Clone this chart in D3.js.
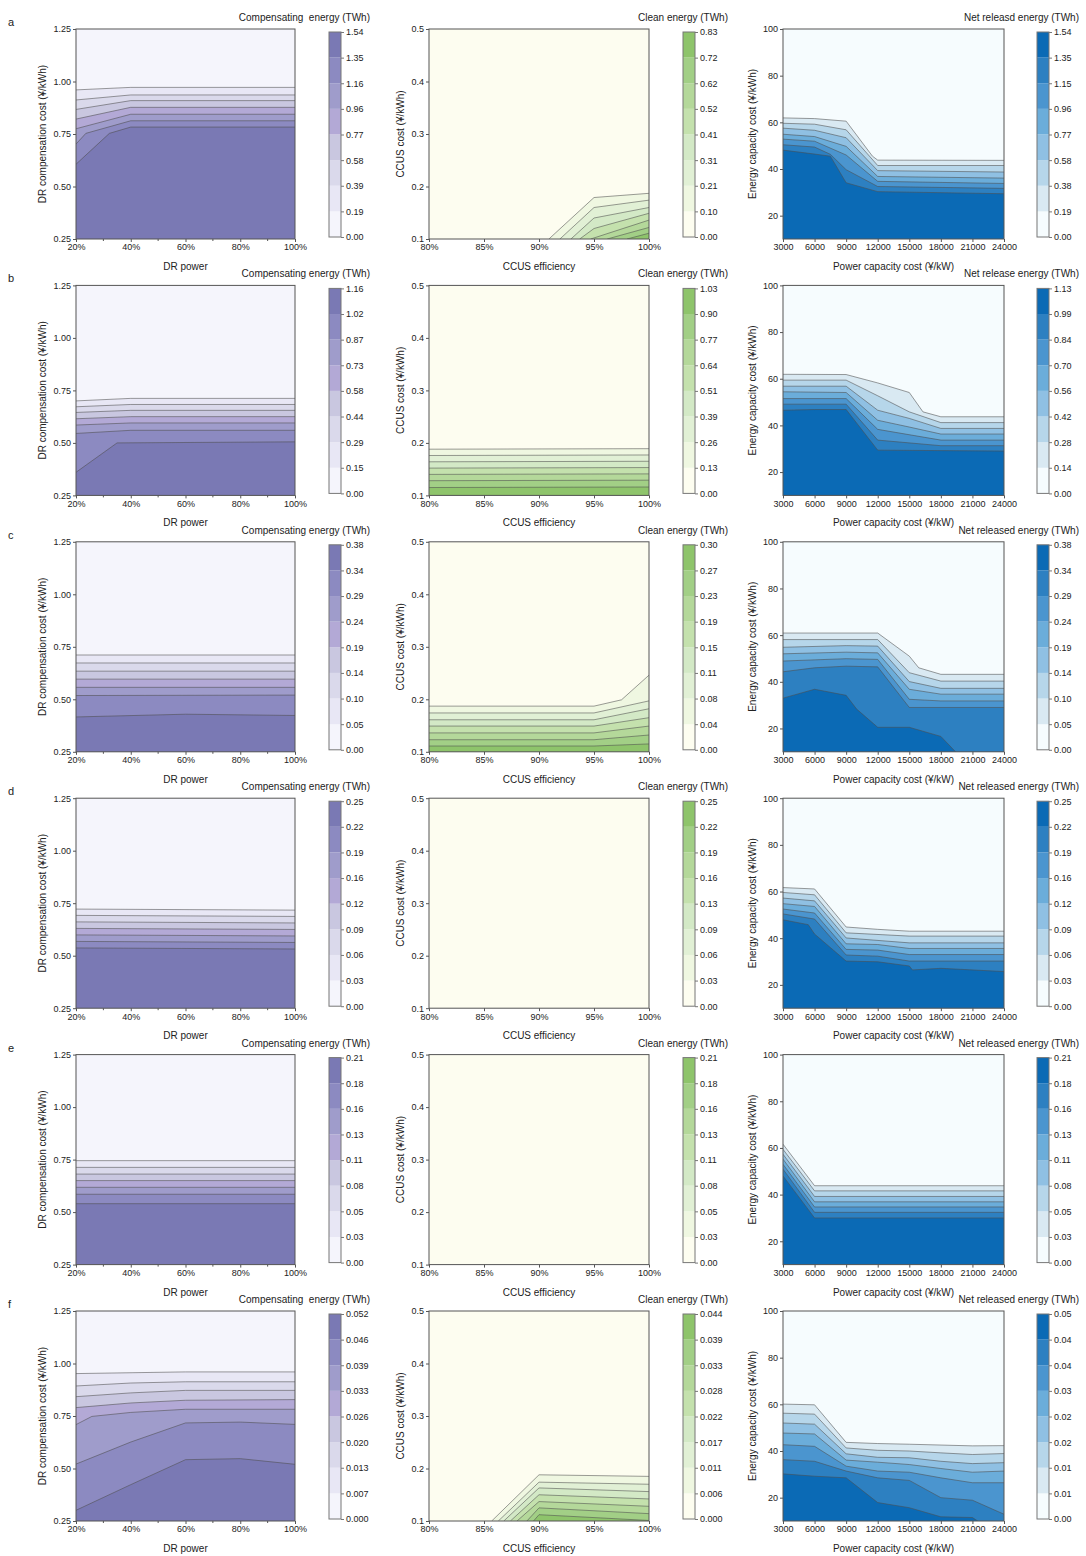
<!DOCTYPE html>
<meta charset="utf-8">
<style>
body { margin: 0; background: #fff; }
text { font-family: "Liberation Sans", Arial, sans-serif; fill: #222; }
.tick text { font-size: 9px; }
.axisTitle { font-size: 10px; }
.barTitle { font-size: 10px; }
.panelLetter { font-size: 11px; }
</style>
<svg width="1086" height="1556"></svg>
<script src="https://cdn.jsdelivr.net/npm/d3@7"></script>
<script>

const rows = ["a", "b", "c", "d", "e", "f"];

// axis ticks
const drPowerTicks = [20, 40, 60, 80, 100];
const drCostTicks = [0.25, 0.5, 0.75, 1.0, 1.25];
const ccusEffTicks = [80, 85, 90, 95, 100];
const ccusCostTicks = [0.1, 0.2, 0.3, 0.4, 0.5];
const powerCostTicks = [3000, 6000, 9000, 12000, 15000, 18000, 21000, 24000];
const energyCostTicks = [20, 40, 60, 80, 100];

// colorbar labels per row
const compLabels = [
  ["0.00","0.19","0.39","0.58","0.77","0.96","1.16","1.35","1.54"],
  ["0.00","0.15","0.29","0.44","0.58","0.73","0.87","1.02","1.16"],
  ["0.00","0.05","0.10","0.14","0.19","0.24","0.29","0.34","0.38"],
  ["0.00","0.03","0.06","0.09","0.12","0.16","0.19","0.22","0.25"],
  ["0.00","0.03","0.05","0.08","0.11","0.13","0.16","0.18","0.21"],
  ["0.000","0.007","0.013","0.020","0.026","0.033","0.039","0.046","0.052"]
];
const cleanLabels = [
  ["0.00","0.10","0.21","0.31","0.41","0.52","0.62","0.72","0.83"],
  ["0.00","0.13","0.26","0.39","0.51","0.64","0.77","0.90","1.03"],
  ["0.00","0.04","0.08","0.11","0.15","0.19","0.23","0.27","0.30"],
  ["0.00","0.03","0.06","0.09","0.13","0.16","0.19","0.22","0.25"],
  ["0.00","0.03","0.05","0.08","0.11","0.13","0.16","0.18","0.21"],
  ["0.000","0.006","0.011","0.017","0.022","0.028","0.033","0.039","0.044"]
];
const netLabels = [
  ["0.00","0.19","0.38","0.58","0.77","0.96","1.15","1.35","1.54"],
  ["0.00","0.14","0.28","0.42","0.56","0.70","0.84","0.99","1.13"],
  ["0.00","0.05","0.10","0.14","0.19","0.24","0.29","0.34","0.38"],
  ["0.00","0.03","0.06","0.09","0.12","0.16","0.19","0.22","0.25"],
  ["0.00","0.03","0.05","0.08","0.11","0.13","0.16","0.18","0.21"],
  ["0.00","0.01","0.01","0.02","0.02","0.03","0.04","0.04","0.05"]
];

const compTitles = ["Compensating  energy (TWh)", "Compensating energy (TWh)", "Compensating energy (TWh)",
  "Compensating energy (TWh)", "Compensating energy (TWh)", "Compensating  energy (TWh)"];
const cleanTitles = ["Clean energy (TWh)", "Clean energy (TWh)", "Clean energy (TWh)",
  "Clean energy (TWh)", "Clean energy (TWh)", "Clean energy (TWh)"];
const netTitles = ["Net releasd energy (TWh)", "Net release energy (TWh)", "Net released energy (TWh)",
  "Net released energy (TWh)", "Net released energy (TWh)", "Net released energy (TWh)"];

// contour boundaries (level 1..7), [x, y] vertices
const comp_a = [
  [[20,0.960],[40,0.972],[100,0.972]],
  [[20,0.912],[40,0.936],[100,0.936]],
  [[20,0.867],[40,0.909],[100,0.909]],
  [[20,0.821],[40,0.877],[100,0.877]],
  [[20,0.775],[40,0.844],[100,0.844]],
  [[20,0.702],[23.6,0.753],[40,0.813],[100,0.813]],
  [[20,0.606],[32.2,0.753],[40,0.783],[100,0.783]]
];
const comp_b = [
  [[20,0.700],[40,0.712],[100,0.712]],
  [[20,0.672],[40,0.683],[100,0.683]],
  [[20,0.645],[40,0.655],[100,0.655]],
  [[20,0.615],[40,0.625],[100,0.625]],
  [[20,0.585],[40,0.595],[100,0.595]],
  [[20,0.545],[40,0.560],[100,0.560]],
  [[20,0.360],[35,0.500],[100,0.505]]
];
const comp_c = [
  [[20,0.711],[100,0.711]],
  [[20,0.673],[100,0.673]],
  [[20,0.634],[100,0.634]],
  [[20,0.596],[100,0.596]],
  [[20,0.557],[100,0.557]],
  [[20,0.518],[100,0.520]],
  [[20,0.416],[60,0.429],[100,0.423]]
];
const comp_d = [
  [[20,0.722],[100,0.717]],
  [[20,0.692],[100,0.687]],
  [[20,0.661],[100,0.656]],
  [[20,0.630],[100,0.625]],
  [[20,0.599],[100,0.594]],
  [[20,0.568],[100,0.563]],
  [[20,0.537],[100,0.532]]
];
const comp_e = [
  [[20,0.745],[100,0.745]],
  [[20,0.713],[100,0.713]],
  [[20,0.681],[100,0.681]],
  [[20,0.650],[100,0.650]],
  [[20,0.618],[100,0.618]],
  [[20,0.585],[100,0.585]],
  [[20,0.540],[100,0.540]]
];
const comp_f = [
  [[20,0.952],[60,0.960],[100,0.960]],
  [[20,0.893],[40,0.907],[60,0.913],[100,0.913]],
  [[20,0.842],[40,0.860],[60,0.872],[100,0.872]],
  [[20,0.790],[40,0.812],[60,0.825],[100,0.828]],
  [[20,0.709],[25.8,0.748],[40,0.767],[60,0.782],[100,0.782]],
  [[20,0.521],[40,0.626],[60,0.717],[80,0.721],[100,0.710]],
  [[20,0.301],[40,0.423],[60,0.542],[80,0.547],[100,0.520]]
];

const clean_a = [
  [[90.9,0.1],[95,0.179],[100,0.187]],
  [[91.9,0.1],[95,0.160],[100,0.174]],
  [[92.9,0.1],[95,0.140],[100,0.160]],
  [[93.7,0.1],[95,0.120],[100,0.149]],
  [[94.7,0.1],[100,0.136]],
  [[96.2,0.1],[100,0.122]],
  [[98.0,0.1],[100,0.111]]
];
const clean_b = [
  [[80,0.188],[100,0.189]],
  [[80,0.176],[100,0.177]],
  [[80,0.164],[100,0.165]],
  [[80,0.152],[100,0.153]],
  [[80,0.140],[100,0.141]],
  [[80,0.128],[100,0.129]],
  [[80,0.115],[100,0.116]]
];
const clean_c = [
  [[80,0.187],[95,0.187],[97.5,0.199],[100,0.246]],
  [[80,0.174],[95,0.174],[100,0.197]],
  [[80,0.161],[95,0.161],[100,0.182]],
  [[80,0.149],[95,0.149],[100,0.165]],
  [[80,0.136],[95,0.136],[100,0.149]],
  [[80,0.123],[95,0.123],[100,0.132]],
  [[80,0.111],[95,0.111],[100,0.115]]
];
const clean_d = [];
const clean_e = [];
const clean_f = [
  [[85.7,0.1],[90,0.188],[100,0.185]],
  [[86.3,0.1],[90,0.174],[100,0.170]],
  [[86.8,0.1],[90,0.163],[100,0.156]],
  [[87.4,0.1],[90,0.150],[100,0.142]],
  [[88.0,0.1],[90,0.137],[100,0.128]],
  [[88.9,0.1],[90,0.125],[100,0.114]],
  [[89.5,0.1],[90,0.112],[100,0.101]]
];

const net_a = [
  [[3000,61.9],[6000,61.6],[9000,60.5],[11500,45.5],[12000,43.8],[24000,43.7]],
  [[3000,59.6],[6000,59.2],[9000,56.8],[12000,41.5],[24000,41.5]],
  [[3000,57.5],[6000,56.6],[9000,53.4],[12000,39.3],[24000,38.7]],
  [[3000,54.9],[6000,53.9],[9000,49.7],[12000,36.8],[24000,36.1]],
  [[3000,52.8],[6000,51.9],[9000,46.0],[12000,34.7],[24000,33.8]],
  [[3000,50.4],[6000,49.4],[7500,46.3],[9000,39.7],[12000,32.5],[24000,31.7]],
  [[3000,48.1],[6000,46.4],[7500,45.5],[9000,34.1],[12000,30.3],[24000,29.4]]
];
const net_b = [
  [[3000,61.9],[9000,61.8],[12000,58.2],[15000,54.1],[16300,45.8],[18000,43.7],[24000,43.7]],
  [[3000,59.4],[9000,59.4],[12000,52.7],[15000,45.8],[18000,41.2],[24000,41.2]],
  [[3000,56.8],[9000,56.8],[12000,46.5],[15000,43.0],[18000,38.7],[24000,38.7]],
  [[3000,54.4],[9000,54.1],[12000,42.2],[15000,39.3],[18000,36.3],[24000,36.3]],
  [[3000,51.5],[9000,51.5],[12000,38.3],[18000,33.7],[24000,33.7]],
  [[3000,49.1],[9000,49.1],[12000,33.7],[18000,31.3],[24000,31.3]],
  [[3000,46.5],[6000,46.8],[9000,46.8],[12000,29.4],[24000,29.0]]
];
const net_c = [
  [[3000,60.9],[12000,60.9],[15000,51.0],[15900,46.0],[18000,43.2],[24000,43.2]],
  [[3000,58.1],[12000,58.1],[15000,43.9],[18000,40.3],[24000,40.3]],
  [[3000,54.8],[9000,55.5],[12000,55.3],[15000,40.1],[18000,37.2],[24000,37.2]],
  [[3000,52.0],[9000,52.7],[12000,52.4],[15000,36.8],[18000,34.7],[24000,34.7]],
  [[3000,48.9],[9000,49.9],[12000,49.6],[15000,32.5],[18000,31.8],[24000,31.8]],
  [[3000,44.3],[6000,46.0],[9000,46.7],[12000,46.4],[15000,29.0],[24000,29.0]],
  [[3000,33.0],[6000,36.8],[9000,34.2],[10000,28.3],[12000,20.5],[15000,20.5],[18000,16.6],[19400,10.0],[21000,4],[24000,4]]
];
const net_d = [
  [[3000,61.7],[6000,61.1],[9000,44.8],[12000,43.8],[15000,43.0],[24000,43.0]],
  [[3000,59.6],[6000,58.6],[9000,42.3],[15000,40.9],[24000,40.9]],
  [[3000,57.2],[6000,56.0],[9000,40.1],[15000,38.0],[24000,38.0]],
  [[3000,54.8],[6000,53.6],[9000,37.6],[12000,37.3],[15000,35.6],[24000,35.6]],
  [[3000,52.5],[6000,50.8],[9000,35.2],[12000,34.9],[15000,33.0],[24000,33.0]],
  [[3000,50.4],[6000,48.2],[9000,32.8],[12000,32.3],[15000,30.2],[24000,30.2]],
  [[3000,47.9],[5400,45.8],[6000,41.8],[9000,30.2],[12000,29.9],[15000,28.1],[15300,26.4],[18000,27.1],[24000,25.7]]
];
const net_e = [
  [[3000,61.6],[6000,43.8],[24000,43.8]],
  [[3000,59.4],[6000,41.6],[24000,41.6]],
  [[3000,57.3],[6000,39.2],[24000,39.2]],
  [[3000,55.2],[6000,36.9],[24000,36.9]],
  [[3000,53.0],[6000,34.7],[24000,34.7]],
  [[3000,50.9],[6000,32.4],[24000,32.4]],
  [[3000,48.0],[6000,30.0],[24000,30.0]]
];
const net_f = [
  [[3000,60.1],[6000,59.8],[9000,43.7],[12000,43.2],[15000,42.9],[21000,42.2],[24000,42.3]],
  [[3000,56.2],[6000,55.8],[9000,41.3],[12000,40.3],[15000,40.0],[18000,39.2],[21000,38.5],[24000,38.9]],
  [[3000,52.0],[6000,51.5],[9000,38.8],[12000,37.3],[15000,37.1],[18000,35.6],[21000,34.6],[24000,35.0]],
  [[3000,47.7],[6000,47.3],[9000,36.1],[12000,35.2],[15000,34.2],[18000,32.5],[21000,30.9],[24000,31.4]],
  [[3000,42.7],[6000,42.0],[9000,33.5],[12000,31.4],[15000,30.9],[18000,28.5],[21000,26.4],[24000,26.4]],
  [[3000,36.3],[6000,35.6],[9000,31.4],[12000,28.5],[15000,27.4],[18000,20.0],[21000,18.9],[24000,12.9]],
  [[3000,30.2],[6000,29.2],[9000,28.5],[12000,17.9],[15000,15.7],[18000,11.8],[21000,11.5],[21500,10.0],[24000,4]]
];

// band palettes, low -> high
const purples = ["#f5f5fc","#e8e7f5","#dad9eb","#c9c7e0","#b3a9d6","#9f9ccb","#8c8ac1","#7a79b4"];
const greens = ["#fdfdf0","#eff7e1","#e1f0d5","#d3e9c6","#c4e1ad","#b4d89a","#a2cf86","#8ec46b"];
const blues = ["#f6fcfe","#d9e9f2","#b6d6ea","#8fc0e3","#6badda","#4b95cf","#2d80c1","#0b6ab5"];

const columns = [
  {key: "comp", lines: [comp_a, comp_b, comp_c, comp_d, comp_e, comp_f], labels: compLabels, titles: compTitles,
   colors: purples, x0: 76, x1: 295, bar: 329, titleRight: 370, yLabX: 42,
   xDomain: [20, 100], xTicks: drPowerTicks, xFmt: d => d + "%", xMinor: [30, 50, 70, 90],
   yDomain: [0.25, 1.25], yTicks: drCostTicks, yFmt: d3.format(".2f"),
   xLabel: "DR power", yLabel: "DR compensation cost (¥/kWh)"},
  {key: "clean", lines: [clean_a, clean_b, clean_c, clean_d, clean_e, clean_f], labels: cleanLabels, titles: cleanTitles,
   colors: greens, x0: 429, x1: 649, bar: 683, titleRight: 728, yLabX: 400,
   xDomain: [80, 100], xTicks: ccusEffTicks, xFmt: d => d + "%", xMinor: [],
   yDomain: [0.1, 0.5], yTicks: ccusCostTicks, yFmt: d3.format(".1f"),
   xLabel: "CCUS efficiency", yLabel: "CCUS cost (¥/kWh)"},
  {key: "net", lines: [net_a, net_b, net_c, net_d, net_e, net_f], labels: netLabels, titles: netTitles,
   colors: blues, x0: 783, x1: 1004, bar: 1037, titleRight: 1079, yLabX: 752,
   xDomain: [3000, 24000], xTicks: powerCostTicks, xFmt: d => d, xMinor: [],
   yDomain: [10, 100], yTicks: energyCostTicks, yFmt: d => d,
   xLabel: "Power capacity cost (¥/kW)", yLabel: "Energy capacity cost (¥/kWh)"}
];

const svg = d3.select("svg");
svg.append("rect").attr("width", 1086).attr("height", 1556).attr("fill", "#fff");

const rowTop0 = 29, rowPitch = 256.4, plotH = 210;
const barW = 12;
const frame = "#555";

rows.forEach((letter, r) => {
  const top = rowTop0 + r * rowPitch;
  const bottom = top + plotH;

  svg.append("text").attr("class", "panelLetter")
    .attr("x", 8).attr("y", top - 3).text(letter);

  columns.forEach((col, c) => {
    const x = d3.scaleLinear().domain(col.xDomain).range([col.x0, col.x1]);
    const y = d3.scaleLinear().domain(col.yDomain).range([bottom, top]);
    const clipId = `clip-${col.key}-${letter}`;

    svg.append("clipPath").attr("id", clipId)
      .append("rect").attr("x", col.x0).attr("y", top)
      .attr("width", col.x1 - col.x0).attr("height", plotH);

    const g = svg.append("g").attr("clip-path", `url(#${clipId})`);
    g.append("rect").attr("x", col.x0).attr("y", top)
      .attr("width", col.x1 - col.x0).attr("height", plotH)
      .attr("fill", col.colors[0]);

    const lines = col.lines[r];
    const area = d3.area().x(d => x(d[0])).y0(bottom).y1(d => y(d[1]));
    const line = d3.line().x(d => x(d[0])).y(d => y(d[1]));

    g.selectAll(".band").data(lines).enter().append("path")
      .attr("d", area)
      .attr("fill", (d, i) => col.colors[i + 1]);
    g.selectAll(".cline").data(lines).enter().append("path")
      .attr("d", line)
      .attr("fill", "none")
      .attr("stroke", "#4d4d4d")
      .attr("stroke-opacity", 0.8)
      .attr("stroke-width", 0.7);

    // frame
    svg.append("rect").attr("x", col.x0).attr("y", top)
      .attr("width", col.x1 - col.x0).attr("height", plotH)
      .attr("fill", "none").attr("stroke", frame).attr("stroke-width", 1);

    // axes
    const xAxis = svg.append("g").attr("transform", `translate(0,${bottom})`)
      .call(d3.axisBottom(x).tickValues(col.xTicks).tickFormat(col.xFmt).tickSize(3).tickPadding(2));
    xAxis.selectAll(".domain").remove();
    xAxis.selectAll(".tick line").attr("stroke", frame);
    if (col.xMinor.length) {
      xAxis.selectAll(".minor").data(col.xMinor).enter().append("line")
        .attr("x1", d => x(d)).attr("x2", d => x(d))
        .attr("y1", 0).attr("y2", 2).attr("stroke", frame);
    }
    const yAxis = svg.append("g").attr("transform", `translate(${col.x0},0)`)
      .call(d3.axisLeft(y).tickValues(col.yTicks).tickFormat(col.yFmt).tickSize(3).tickPadding(2));
    yAxis.selectAll(".domain").remove();
    yAxis.selectAll(".tick line").attr("stroke", frame);

    svg.append("text").attr("class", "axisTitle")
      .attr("x", (col.x0 + col.x1) / 2).attr("y", bottom + 31)
      .attr("text-anchor", "middle").text(col.xLabel);
    svg.append("text").attr("class", "axisTitle")
      .attr("transform", `translate(${col.yLabX},${(top + bottom) / 2}) rotate(-90)`)
      .attr("text-anchor", "middle").attr("dy", "0.35em").text(col.yLabel);

    // colorbar
    const bTop = top + 3, bBottom = bottom - 2;
    const bs = d3.scaleLinear().domain([0, 8]).range([bBottom, bTop]);
    const cb = svg.append("g");
    cb.selectAll("rect.band").data(col.colors).enter().append("rect")
      .attr("x", col.bar).attr("width", barW)
      .attr("y", (d, i) => bs(i + 1)).attr("height", (d, i) => bs(i) - bs(i + 1))
      .attr("fill", d => d);
    cb.append("rect").attr("x", col.bar).attr("y", bTop)
      .attr("width", barW).attr("height", bBottom - bTop)
      .attr("fill", "none").attr("stroke", "#777").attr("stroke-width", 1);
    const cbAxis = cb.append("g").attr("transform", `translate(${col.bar + barW},0)`)
      .call(d3.axisRight(bs).tickValues(d3.range(9))
        .tickFormat(i => col.labels[r][i]).tickSize(3).tickPadding(2));
    cbAxis.selectAll(".domain").remove();
    cbAxis.selectAll(".tick line").attr("stroke", "#777");

    svg.append("text").attr("class", "barTitle")
      .attr("x", col.titleRight).attr("y", top - 8)
      .attr("text-anchor", "end").style("white-space", "pre")
      .text(col.titles[r]);
  });
});

</script>
